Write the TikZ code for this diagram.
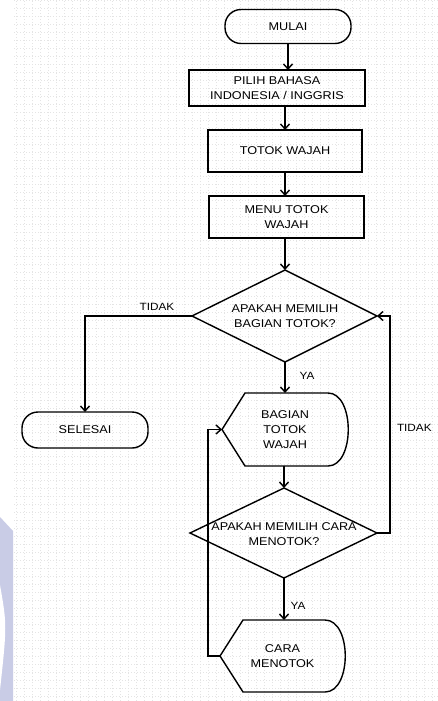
\documentclass[tikz,border=0pt]{standalone}
\usepackage{fontspec}
\newfontfamily\df[FakeStretch=1.12]{Liberation Sans}
\usetikzlibrary{arrows.meta}
\definecolor{wm}{HTML}{C9CCE6}
\definecolor{gridc}{HTML}{E4E4E4}
\begin{document}
\begin{tikzpicture}[x=1pt,y=-1pt,
  line width=1.4pt,
  every node/.style={font=\df\fontsize{11.3}{15}\selectfont, align=center, inner sep=0pt, outer sep=0pt},
  box/.style={draw, minimum width=#1},
  term/.style={draw, rounded corners=16pt, minimum width=126pt, minimum height=34pt},
  txt/.style={draw=none},
  lbl/.style={font=\df\fontsize{10.5}{12}\selectfont},
  arr/.style={-{Straight Barb[length=5pt,width=9pt]}},
  ln/.style={line join=miter},
]
\useasboundingbox (0,0) rectangle (438,701);
\fill[white] (0,0) rectangle (438,701);
% faint grid
\draw[gridc, line width=0.5pt, dash pattern=on 1pt off 2pt, step=8pt] (14,0) grid (438,701);
% watermark
\fill[wm] (0,517) -- (13,531) -- (13,701) -- (0,701) -- cycle;
\fill[white] (0,585) .. controls (7,625) .. (0,690) -- cycle;

% nodes
\node[term] (mulai) at (288,26.5) {MULAI};
\node[box=176pt, minimum height=36pt] (pilih) at (277,88) {PILIH BAHASA\\INDONESIA / INGGRIS};
\node[box=154pt, minimum height=42pt] (totok) at (285,151) {TOTOK WAJAH};
\node[box=155pt, minimum height=42pt] (menu) at (286.5,217) {MENU TOTOK\\WAJAH};

% diamond 1
\node[txt] (d1) at (285,316) {APAKAH MEMILIH\\BAGIAN TOTOK?};
\coordinate (d1t) at (285,270);
\coordinate (d1r) at (377,316);
\coordinate (d1b) at (285,362);
\coordinate (d1l) at (192,316);
\draw[ln] (d1t) -- (d1r) -- (d1b) -- (d1l) -- cycle;

\node[term, minimum height=36pt] (selesai) at (85,430) {SELESAI};

% display 1
\node[txt, minimum width=126pt, minimum height=73pt] (bag) at (285,429.5) {BAGIAN\\TOTOK\\WAJAH};
\draw[ln] (bag.west) -- ([xshift=23pt]bag.north west) -- ([xshift=-20pt]bag.north east)
  .. controls ([xshift=7pt]bag.north east) and ([xshift=7pt]bag.south east) .. ([xshift=-20pt]bag.south east)
  -- ([xshift=23pt]bag.south west) -- cycle;

% diamond 2
\node[txt] (d2) at (284,534) {APAKAH MEMILIH CARA\\MENOTOK?};
\coordinate (d2t) at (284,488);
\coordinate (d2r) at (377,533);
\coordinate (d2b) at (284,578);
\coordinate (d2l) at (190,533);
\draw[ln] (d2t) -- (d2r) -- (d2b) -- (d2l) -- cycle;

% display 2
\node[txt, minimum width=125pt, minimum height=72pt] (cara) at (282.5,656) {CARA\\MENOTOK};
\draw[ln] (cara.west) -- ([xshift=23pt]cara.north west) -- ([xshift=-20pt]cara.north east)
  .. controls ([xshift=7pt]cara.north east) and ([xshift=7pt]cara.south east) .. ([xshift=-20pt]cara.south east)
  -- ([xshift=23pt]cara.south west) -- cycle;

% connectors
\draw[arr] (mulai.south) -- (mulai.south |- pilih.north);
\draw[arr] (pilih.south -| totok.north) -- (totok.north);
\draw[arr] (totok.south) -- (totok.south |- menu.north);
\draw[arr] (menu.south -| d1t) -- (d1t);
\draw[arr, ln] (d1l) -| (selesai.north);
\draw[arr] (d1b) -- (d1b |- bag.north);
\draw[arr] (bag.south -| d2t) -- (d2t);
\draw[arr] (d2b) -- (d2b |- cara.north);
\draw[arr, ln] (d2r) -- ++(13,0) |- (d1r);
\draw[arr, ln] (cara.west) -- ++(-12,0) |- (bag.west);

% labels
\node[lbl] (t1) at (157,307) {TIDAK};
\node[lbl] (y1) at (307,376) {YA};
\node[lbl, anchor=west] (t2) at (397,428) {TIDAK};
\node[lbl] (y2) at (298,606) {YA};
\end{tikzpicture}
\end{document}
